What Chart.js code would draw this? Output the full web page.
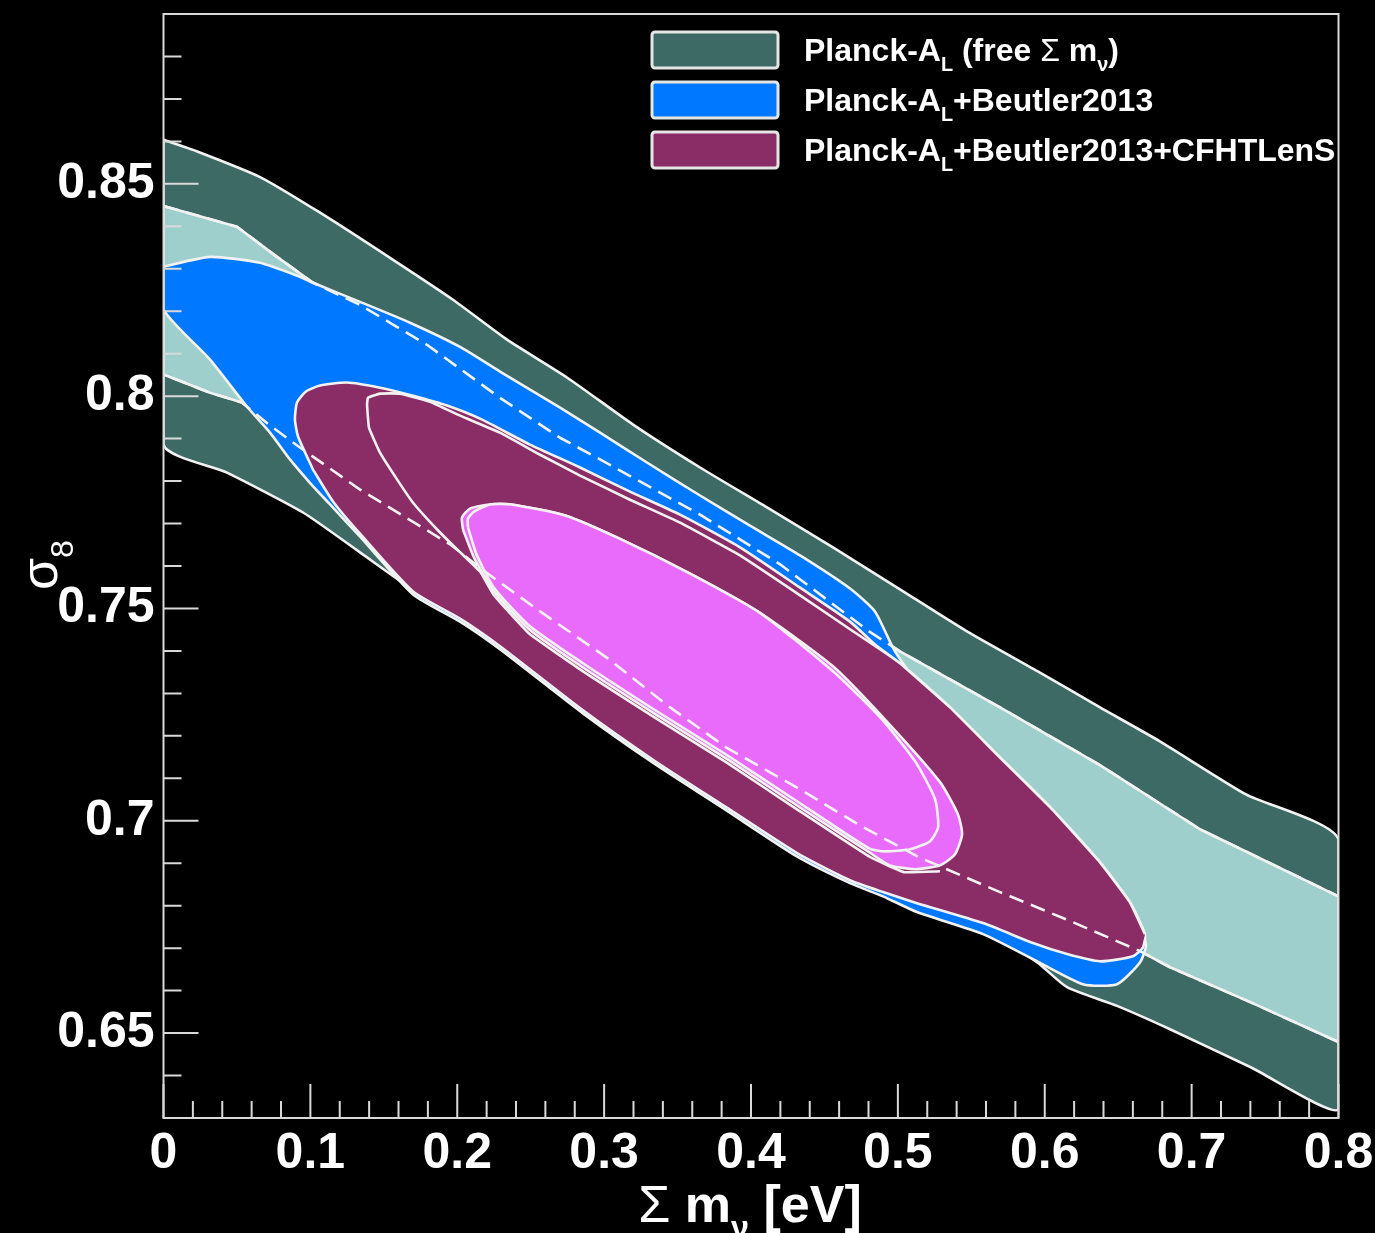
<!DOCTYPE html>
<html>
<head>
<meta charset="utf-8">
<title>sigma8 vs sum of neutrino masses</title>
<script src="https://cdn.jsdelivr.net/npm/chart.js@4.4.1/dist/chart.umd.min.js"></script>
<style>
  html, body { margin: 0; padding: 0; background: #000; }
  canvas { display: block; }
</style>
</head>
<body>
<canvas id="c" width="1375" height="1233"></canvas>
<script>
// --- axes ---
const xRange = [0, 0.8];
const yRange = [0.63, 0.89];
const xMajorTicks = [0, 0.1, 0.2, 0.3, 0.4, 0.5, 0.6, 0.7, 0.8];
const yMajorTicks = [0.65, 0.7, 0.75, 0.8, 0.85];
const xMinorStep = 0.02;
const yMinorStep = 0.01;

// --- contours, points are [sum m_nu (eV), sigma_8] ---
// Planck-A_L, 95% region edges
const planckOuterUpper = [
  [0, 0.8604], [0.0201, 0.8580], [0.0657, 0.8516], [0.1066, 0.8432], [0.1563, 0.8321],
  [0.1971, 0.8227], [0.2339, 0.8133], [0.2747, 0.8044], [0.3197, 0.7933], [0.3653, 0.7832],
  [0.4109, 0.7738], [0.4558, 0.7644], [0.5014, 0.7545], [0.5470, 0.7446], [0.5967, 0.7349],
  [0.6376, 0.7267], [0.6784, 0.7187], [0.7370, 0.7062], [0.8, 0.6956]
];
const planckOuterLower = [
  [0.8, 0.6321], [0.7399, 0.6420], [0.6853, 0.6509], [0.6492, 0.6564], [0.6152, 0.6608],
  [0.5947, 0.6667], [0.5580, 0.6745], [0.5130, 0.6796], [0.4674, 0.6867], [0.4313, 0.6931],
  [0.3830, 0.7039], [0.3340, 0.7152], [0.2856, 0.7269], [0.2291, 0.7420], [0.2019, 0.7481],
  [0.1678, 0.7549], [0.1338, 0.7632], [0.0950, 0.7726], [0.0432, 0.7820], [0, 0.7886]
];
// Planck-A_L, 68% region edges
const planckInnerUpper = [
  [0, 0.8448], [0.0500, 0.8399], [0.0773, 0.8328], [0.1018, 0.8267], [0.1338, 0.8215],
  [0.1794, 0.8121], [0.2291, 0.7996], [0.2700, 0.7902], [0.2972, 0.7851], [0.3653, 0.7721],
  [0.4198, 0.7604], [0.4804, 0.7446], [0.5014, 0.7399], [0.5355, 0.7333], [0.5695, 0.7267],
  [0.6376, 0.7131], [0.7057, 0.6980], [0.8, 0.6822]
];
const planckInnerLower = [
  [0.8, 0.6479], [0.7399, 0.6573], [0.6853, 0.6655], [0.6649, 0.6693], [0.6172, 0.6764],
  [0.5695, 0.6832], [0.5144, 0.6914], [0.4742, 0.6989], [0.4334, 0.7074], [0.3830, 0.7173],
  [0.3449, 0.7267], [0.3027, 0.7382], [0.2564, 0.7493], [0.2196, 0.7585], [0.1951, 0.7651],
  [0.1338, 0.7780], [0.0929, 0.7879], [0.0725, 0.7931], [0.0534, 0.7985], [0.0317, 0.8008],
  [0, 0.8051]
];
// Planck-A_L + Beutler2013
const beutlerOutline = [
  [0, 0.8305], [0.0317, 0.8328], [0.0657, 0.8314], [0.0929, 0.8281], [0.1018, 0.8267],
  [0.1338, 0.8222], [0.1678, 0.8173], [0.2019, 0.8116], [0.2291, 0.8058], [0.2700, 0.7973],
  [0.2972, 0.7914], [0.3313, 0.7839], [0.3653, 0.7766], [0.3993, 0.7695], [0.4334, 0.7625],
  [0.4674, 0.7547], [0.4844, 0.7493], [0.4980, 0.7399], [0.5219, 0.7286], [0.5695, 0.7126],
  [0.6036, 0.7008], [0.6376, 0.6879], [0.6614, 0.6775], [0.6689, 0.6709],
  [0.6649, 0.6667], [0.6492, 0.6615], [0.6260, 0.6615], [0.5920, 0.6674], [0.5580, 0.6733],
  [0.5130, 0.6785], [0.4899, 0.6822], [0.4674, 0.6853], [0.4313, 0.6916], [0.3830, 0.7025],
  [0.3340, 0.7135], [0.2856, 0.7253], [0.2291, 0.7404], [0.2019, 0.7469], [0.1699, 0.7533],
  [0.1338, 0.7669], [0.1134, 0.7745], [0.0997, 0.7796], [0.0861, 0.7851], [0.0725, 0.7914],
  [0.0569, 0.7975], [0.0317, 0.8086], [0, 0.8204]
];
// Planck-A_L + Beutler2013 + CFHTLenS, two 95% outlines
const lensOuterA = [
  [0.1018, 0.7827], [0.0916, 0.7905], [0.0895, 0.7945], [0.0909, 0.7985], [0.0970, 0.8011],
  [0.1066, 0.8025], [0.1249, 0.8032], [0.1474, 0.8020], [0.1699, 0.8001], [0.1930, 0.7978],
  [0.2155, 0.7947], [0.2495, 0.7886], [0.2836, 0.7832], [0.3176, 0.7775], [0.3517, 0.7721],
  [0.3925, 0.7644], [0.4334, 0.7549], [0.4674, 0.7469], [0.4844, 0.7415], [0.5014, 0.7371],
  [0.5355, 0.7267], [0.5695, 0.7149], [0.6036, 0.7032], [0.6376, 0.6902], [0.6580, 0.6808],
  [0.6682, 0.6733], [0.6669, 0.6702], [0.6601, 0.6681], [0.6376, 0.6669], [0.6152, 0.6686],
  [0.5920, 0.6712], [0.5580, 0.6759], [0.5130, 0.6806], [0.4899, 0.6832], [0.4674, 0.6860],
  [0.4313, 0.6924], [0.3830, 0.7032], [0.3340, 0.7142], [0.2856, 0.7260], [0.2291, 0.7411],
  [0.2019, 0.7476], [0.1699, 0.7540], [0.1338, 0.7676], [0.1154, 0.7752]
];
const lensOuterB = [
  [0.1386, 0.7980], [0.1392, 0.7996], [0.1474, 0.8006], [0.1610, 0.8006], [0.1815, 0.7987],
  [0.2019, 0.7954], [0.2291, 0.7914], [0.2564, 0.7862], [0.2836, 0.7813], [0.3176, 0.7756],
  [0.3517, 0.7702], [0.3925, 0.7625], [0.4334, 0.7531], [0.4674, 0.7451], [0.4878, 0.7404],
  [0.5014, 0.7371], [0.5355, 0.7267], [0.5695, 0.7149], [0.6036, 0.7032], [0.6376, 0.6902],
  [0.6580, 0.6808], [0.6682, 0.6733], [0.6662, 0.6714], [0.6172, 0.6768], [0.5695, 0.6839],
  [0.5389, 0.6881], [0.5287, 0.6881], [0.5042, 0.6879], [0.4804, 0.6916], [0.4313, 0.7027],
  [0.3830, 0.7138], [0.3340, 0.7244], [0.2856, 0.7352], [0.2489, 0.7441], [0.2250, 0.7531],
  [0.2155, 0.7587], [0.1999, 0.7639], [0.1863, 0.7686], [0.1699, 0.7749], [0.1590, 0.7804],
  [0.1474, 0.7867], [0.1399, 0.7926]
];
// ... and the two 68% outlines
const lensInnerA = [
  [0.2039, 0.7686], [0.2032, 0.7714], [0.2087, 0.7735], [0.2223, 0.7745], [0.2366, 0.7745],
  [0.2734, 0.7719], [0.3101, 0.7665], [0.3585, 0.7582], [0.4068, 0.7488], [0.4558, 0.7364],
  [0.4919, 0.7236], [0.5287, 0.7091], [0.5409, 0.7015], [0.5437, 0.6968], [0.5389, 0.6921],
  [0.5287, 0.6895], [0.5117, 0.6886], [0.4946, 0.6895], [0.4804, 0.6926], [0.4313, 0.7036],
  [0.3830, 0.7147], [0.3340, 0.7253], [0.2856, 0.7361], [0.2489, 0.7451], [0.2250, 0.7540],
  [0.2114, 0.7620]
];
const lensInnerB = [
  [0.2073, 0.7691], [0.2073, 0.7712], [0.2114, 0.7728], [0.2223, 0.7745], [0.2366, 0.7745],
  [0.2734, 0.7719], [0.3101, 0.7665], [0.3585, 0.7582], [0.4068, 0.7488], [0.4558, 0.7352],
  [0.4878, 0.7244], [0.5117, 0.7140], [0.5253, 0.7051], [0.5274, 0.6985], [0.5219, 0.6952],
  [0.5083, 0.6933], [0.4912, 0.6928], [0.4804, 0.6935], [0.4313, 0.7046], [0.3830, 0.7156],
  [0.3340, 0.7262], [0.2856, 0.7371], [0.2489, 0.7460], [0.2250, 0.7549], [0.2134, 0.7625]
];

// --- legend ---
const legendColors = ['#3d6a65', '#0078ff', '#8a2c66'];
const legendLabels = [
  [{ t: 'Planck-A' }, { t: 'L', sub: true }, { t: ' (free ' }, { t: 'Σ', light: true }, { t: ' m' }, { t: 'ν', sub: true }, { t: ')' }],
  [{ t: 'Planck-A' }, { t: 'L', sub: true }, { t: '+Beutler2013' }],
  [{ t: 'Planck-A' }, { t: 'L', sub: true }, { t: '+Beutler2013+CFHTLenS' }]
];
const xTitle = [{ t: 'Σ', light: true }, { t: ' m' }, { t: 'ν', sub: true }, { t: ' [eV]' }];
const yTitle = [{ t: 'σ', light: true }, { t: '8', sub: true, light: true }];

// --- colours ---
const FONT = "'Liberation Sans', Arial, Helvetica, sans-serif";
const EDGE = '#f2f2f2';
const DARK_TEAL = '#3d6a65';
const LIGHT_TEAL = '#9fcfcd';
const BLUE = '#0078ff';
const PURPLE = '#8a2c66';
const PINK = '#e96bfc';

function pts(list) { return list.map(([x, y]) => ({ x, y })); }
function closed(list) { const p = pts(list); p.push({ ...p[0] }); return p; }

function region(label, outline, color, order, tension = 0.2, edgeWidth = 2.6) {
  return {
    label, data: closed(outline), showLine: true, fill: 'shape',
    backgroundColor: color, borderColor: edgeWidth ? EDGE : 'rgba(0,0,0,0)',
    borderWidth: edgeWidth, borderJoinStyle: 'round', pointRadius: 0, order, clip: 0, tension
  };
}
function edge(label, line, order, tension = 0.2, dash = []) {
  return {
    label, data: pts(line), showLine: true, fill: false,
    borderColor: EDGE, borderWidth: 2.6, borderDash: dash,
    borderJoinStyle: 'round', pointRadius: 0, order, clip: 0, tension
  };
}

// the second 95% outline is only stroked where it is not buried in the first one
const lensOuterBEdge = lensOuterB.slice(26).concat(lensOuterB.slice(0, 22));

const datasets = [
  region('Planck-AL 95%', planckOuterUpper.concat(planckOuterLower), DARK_TEAL, 10),
  region('Planck-AL 68%', planckInnerUpper.concat(planckInnerLower), LIGHT_TEAL, 9, 0),
  region('Planck-AL+Beutler2013', beutlerOutline, BLUE, 8),
  region('+CFHTLenS 95% a', lensOuterA, PURPLE, 7),
  region('+CFHTLenS 95% b', lensOuterB, PURPLE, 6, 0.1, 0),
  edge('+CFHTLenS 95% b edge', lensOuterBEdge, 5, 0.1),
  region('+CFHTLenS 68% a', lensInnerA, PINK, 4),
  region('+CFHTLenS 68% b', lensInnerB, PINK, 3),
  // hidden part of the Planck 68% edge, drawn over everything
  edge('Planck-AL 68% upper', planckInnerUpper, 1, 0, [15, 8]),
  edge('Planck-AL 68% lower', planckInnerLower, 0, 0, [15, 8])
];

// --- helpers for text with subscripts ---
function runsWidth(ctx, runs, size) {
  let w = 0;
  for (const r of runs) {
    const s = r.sub ? size * 0.62 : size;
    ctx.font = `${r.light ? 'normal' : 'bold'} ${s}px ${FONT}`;
    w += ctx.measureText(r.t).width;
  }
  return w;
}
function drawRuns(ctx, runs, x, y, size) {
  let cx = x;
  ctx.textAlign = 'left';
  ctx.textBaseline = 'alphabetic';
  for (const r of runs) {
    const s = r.sub ? size * 0.62 : size;
    ctx.font = `${r.light ? 'normal' : 'bold'} ${s}px ${FONT}`;
    ctx.fillText(r.t, cx, y + (r.sub ? size * 0.3 : 0));
    cx += ctx.measureText(r.t).width;
  }
}

const background = {
  id: 'background',
  beforeDraw(chart) {
    const c = chart.ctx;
    c.save();
    c.fillStyle = '#000';
    c.fillRect(0, 0, chart.width, chart.height);
    c.restore();
  }
};

// frame and inward tick marks
const frame = {
  id: 'frame',
  afterDatasetsDraw(chart) {
    const c = chart.ctx;
    const { left, right, top, bottom } = chart.chartArea;
    const xs = chart.scales.x, ys = chart.scales.y;
    c.save();
    c.strokeStyle = '#d9d9d9';
    c.lineWidth = 2;
    c.strokeRect(left, top, right - left, bottom - top);
    c.beginPath();
    const nx = Math.round((xRange[1] - xRange[0]) / xMinorStep);
    for (let i = 0; i <= nx; i++) {
      const v = xRange[0] + i * xMinorStep;
      const px = xs.getPixelForValue(v);
      const len = i % 5 === 0 ? 34 : 17;
      c.moveTo(px, bottom);
      c.lineTo(px, bottom - len);
    }
    const ny = Math.round((yRange[1] - yRange[0]) / yMinorStep);
    for (let i = 0; i <= ny; i++) {
      const v = yRange[0] + i * yMinorStep;
      const py = ys.getPixelForValue(v);
      const major = Math.round(v * 100) % 5 === 0;
      c.moveTo(left, py);
      c.lineTo(left + (major ? 35 : 18), py);
    }
    c.stroke();
    c.restore();
  }
};

const labels = {
  id: 'labels',
  afterDraw(chart) {
    const c = chart.ctx;
    c.save();
    c.fillStyle = '#fff';

    // legend
    legendLabels.forEach((runs, i) => {
      const cy = 50 + i * 50;
      c.beginPath();
      c.roundRect(652, cy - 18, 126, 36, 3);
      c.fillStyle = legendColors[i];
      c.fill();
      c.lineWidth = 3;
      c.strokeStyle = '#e6e6e6';
      c.stroke();
      c.fillStyle = '#fff';
      drawRuns(c, runs, 804, cy + 11, 32);
    });

    // x title
    const size = 52;
    const w = runsWidth(c, xTitle, size);
    drawRuns(c, xTitle, 750 - w / 2, 1222, size);

    // y title
    c.translate(57, 565);
    c.rotate(-Math.PI / 2);
    const wy = runsWidth(c, yTitle, 52);
    drawRuns(c, yTitle, -wy / 2, 0, 52);
    c.restore();
  }
};

const tickFont = { family: FONT, size: 50, weight: 'bold' };

// keep the plot box fixed: no extra room for the end tick labels
function noEdgePadding(s) {
  s.paddingTop = 0;
  s.paddingBottom = 0;
  s.paddingLeft = 0;
  s.paddingRight = 0;
}

new Chart(document.getElementById('c').getContext('2d'), {
  type: 'scatter',
  data: { datasets },
  options: {
    responsive: false,
    animation: false,
    devicePixelRatio: 1,
    events: [],
    layout: { padding: { top: 14, right: 36.5, left: 0, bottom: 0 } },
    plugins: {
      legend: { display: false },
      tooltip: { enabled: false },
      filler: { propagate: false }
    },
    elements: { point: { radius: 0 } },
    scales: {
      x: {
        type: 'linear', min: xRange[0], max: xRange[1],
        grid: { display: false, drawTicks: false },
        border: { display: false },
        afterBuildTicks: s => { s.ticks = xMajorTicks.map(v => ({ value: v })); },
        afterFit: s => { s.height = 115; noEdgePadding(s); },
        ticks: {
          color: '#fff', font: tickFont, padding: 6, maxRotation: 0, autoSkip: false,
          callback: v => String(+(+v).toFixed(2))
        }
      },
      y: {
        type: 'linear', min: yRange[0], max: yRange[1],
        grid: { display: false, drawTicks: false },
        border: { display: false },
        afterBuildTicks: s => { s.ticks = yMajorTicks.map(v => ({ value: v })); },
        afterFit: s => { s.width = 163.5; noEdgePadding(s); },
        ticks: {
          color: '#fff', font: tickFont, padding: 9, autoSkip: false,
          callback: v => String(+(+v).toFixed(2))
        }
      }
    }
  },
  plugins: [background, frame, labels]
});
</script>
</body>
</html>
